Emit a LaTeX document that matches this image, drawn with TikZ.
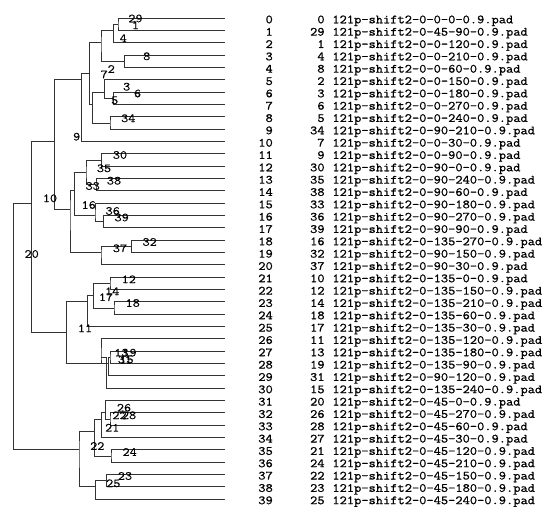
\documentclass[tikz,border=0pt]{standalone}
\usepackage{fontspec}
\newfontfamily\courfont[FakeStretch=1.124, FakeBold=0.8]{Latin Modern Mono}
\newfontfamily\courlight[FakeStretch=1.124, FakeBold=0.3]{Latin Modern Mono}
\newcommand\rowy[1]{(-18.3-12.33*(#1))}
\begin{document}
\begin{tikzpicture}[x=1pt,y=1pt,
  br/.style={draw=black!80, line width=1pt},
  lab/.style={font=\courlight\fontsize{12.3}{12.3}\selectfont, inner sep=0pt, text=black},
  tab/.style={font=\courfont\fontsize{12.5}{12.5}\selectfont, inner sep=0pt, text=black}]
\useasboundingbox[fill=white] (0,0) rectangle (558,-524);

% leaf end points
\foreach \i in {0,...,39} \coordinate (e\i) at (225,{\rowy{\i}});

% internal nodes
\coordinate (n01) at (118,{\rowy{0.5}});
\coordinate (n012) at (113.5,{\rowy{1}});
\coordinate (n34) at (124.5,{\rowy{3.5}});
\coordinate (nA) at (101,{\rowy{2}});
\coordinate (n67) at (113.5,{\rowy{6.5}});
\coordinate (n567) at (104.5,{\rowy{6}});
\coordinate (n89) at (110,{\rowy{8.5}});
\coordinate (nB) at (92.7,{\rowy{7}});
\coordinate (nC) at (89.3,{\rowy{4.5}});
\coordinate (nD) at (81.7,{\rowy{5}});
\coordinate (n1112) at (101.7,{\rowy{11.5}});
\coordinate (n1314) at (96,{\rowy{13.5}});
\coordinate (nM) at (86,{\rowy{12.5}});
\coordinate (n1617) at (103.3,{\rowy{16.5}});
\coordinate (nN) at (95,{\rowy{16}});
\coordinate (nJ) at (74.5,{\rowy{14}});
\coordinate (n1819) at (131.7,{\rowy{18.5}});
\coordinate (nL) at (101,{\rowy{19}});
\coordinate (nF) at (70,{\rowy{15.5}});
\coordinate (nE) at (54.3,{\rowy{10}});
\coordinate (n2122) at (110,{\rowy{21.5}});
\coordinate (n2324) at (114,{\rowy{23.5}});
\coordinate (nR) at (93.5,{\rowy{22.5}});
\coordinate (nP) at (87.3,{\rowy{23}});
\coordinate (n2728) at (110,{\rowy{27.5}});
\coordinate (nX) at (108.3,{\rowy{28}});
\coordinate (nY) at (101,{\rowy{27.5}});
\coordinate (nQ) at (106.7,{\rowy{28}});
\coordinate (nH) at (66.7,{\rowy{25.5}});
\coordinate (nG) at (31.7,{\rowy{15}});
\coordinate (n3233) at (110,{\rowy{32.5}});
\coordinate (n3133) at (105.5,{\rowy{32}});
\coordinate (nI3) at (101.7,{\rowy{32.5}});
\coordinate (n3536) at (111,{\rowy{35.5}});
\coordinate (nI1) at (94.5,{\rowy{33.5}});
\coordinate (n3738) at (106.3,{\rowy{37.5}});
\coordinate (nI2) at (95.5,{\rowy{38}});
\coordinate (nI) at (79,{\rowy{35}});
\coordinate (root) at (13.3,{\rowy{25}});

% branches
\foreach \a/\p/\b in {e0/n01/e1, n01/n012/e2, e3/n34/e4, n012/nA/n34,
  e6/n67/e7, e5/n567/n67, e8/n89/e9, n567/nB/n89, nA/nC/nB, nC/nD/e10,
  e11/n1112/e12, e13/n1314/e14, n1112/nM/n1314, e16/n1617/e17, e15/nN/n1617,
  nM/nJ/nN, e18/n1819/e19, n1819/nL/e20, nJ/nF/nL, nD/nE/nF,
  e21/n2122/e22, e23/n2324/e24, n2122/nR/n2324, nR/nP/e25,
  e27/n2728/e28, n2728/nX/e29, e26/nY/nX, nY/nQ/e30, nP/nH/nQ, nE/nG/nH,
  e32/n3233/e33, e31/n3133/n3233, n3133/nI3/e34, e35/n3536/e36,
  nI3/nI1/n3536, e37/n3738/e38, n3738/nI2/e39, nI1/nI/nI2, nG/root/nI}
  \draw[br] (\a) -| (\p) |- (\b);

% table
\foreach \i/\id/\f in {0/0/0-0, 1/29/45-90, 2/1/0-120, 3/4/0-210, 4/8/0-60,
  5/2/0-150, 6/3/0-180, 7/6/0-270, 8/5/0-240, 9/34/90-210, 10/7/0-30,
  11/9/0-90, 12/30/90-0, 13/35/90-240, 14/38/90-60, 15/33/90-180,
  16/36/90-270, 17/39/90-90, 18/16/135-270, 19/32/90-150, 20/37/90-30,
  21/10/135-0, 22/12/135-150, 23/14/135-210, 24/18/135-60, 25/17/135-30,
  26/11/135-120, 27/13/135-180, 28/19/135-90, 29/31/90-120, 30/15/135-240,
  31/20/45-0, 32/26/45-270, 33/28/45-60, 34/27/45-30, 35/21/45-120,
  36/24/45-210, 37/22/45-150, 38/23/45-180, 39/25/45-240}{
  \node[tab, anchor=base east] (r\i) at (273,{\rowy{\i}-5}) {\i};
  \node[tab, anchor=base east] (d\i) at (324.8,{\rowy{\i}-5}) {\id};
  \node[tab, anchor=base west] (f\i) at (332.2,{\rowy{\i}-5}) {121p-shift2-0-\f-0.9.pad};
}

% tree labels
\foreach \n/\t/\x/\y in {a/29/135.5/18.5, b/1/135.5/25.3, c/4/123.3/38.3,
  d/8/146.7/56.3, e/2/111.3/69, f/7/104.2/74.5, g/3/126.7/86.7,
  h/6/137.5/93.5, i/5/114.7/100.3, j/34/128.3/118.3, k/9/76.7/136.7,
  l/30/120/155, m/35/104/168.3, n/38/114/180.7, o/33/92.7/186,
  p/10/50/198.3, q/16/88.7/205, r/36/112.7/211, s/39/121.7/217.5,
  t/32/149.7/242, u/37/120/248.3, v/20/31.7/254, w/12/128.8/279.3,
  x/14/112.2/291.3, y/17/106/297.2, z/18/132.7/303, A/11/85/328.3,
  B/13/121.5/352.7, C/19/129.5/352.7, D/31/125/359.5, E/15/126.5/359.5,
  F/26/124/407.8, G/22/119.5/415.3, H/28/129/415.3, I/21/112.2/427.7,
  J/22/97.3/446, K/24/129.7/452, L/23/125/476, M/25/113.3/483.3}
  \node[lab] (t\n) at (\x,-\y) {\t};
\end{tikzpicture}
\end{document}
